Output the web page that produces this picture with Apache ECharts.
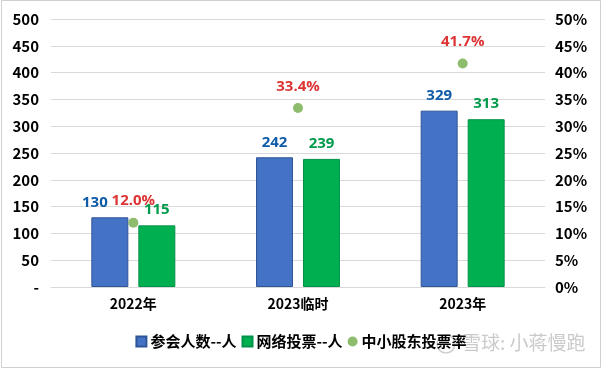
<!DOCTYPE html>
<html><head><meta charset="utf-8">
<script src="https://cdn.jsdelivr.net/npm/echarts@6/dist/echarts.min.js"></script>
<style>html,body{margin:0;padding:0;background:#fff}#c{width:602px;height:369px}</style>
</head><body><div id="c"></div>
<script>
const categories = ['2022年', '2023临时', '2023年'];
const attendees = [130, 242, 329];
const onlineVotes = [115, 239, 313];
const voteRate = [12.0, 33.4, 41.7];
const leftTicks = [0, 50, 100, 150, 200, 250, 300, 350, 400, 450, 500];

const chart = echarts.init(document.getElementById('c'));
const font = '"Noto Sans CJK SC", "Open Sans", sans-serif';
const numFont = '"Open Sans", "Noto Sans CJK SC", sans-serif';
chart.setOption({
  animation: false,
  textStyle: { fontFamily: font },
  grid: { left: 51, right: 57, top: 19, bottom: 82 },
  legend: {
    bottom: 15, left: 'center', itemWidth: 10, itemHeight: 10, itemGap: 5,
    textStyle: { fontSize: 15, fontWeight: 'bold', color: '#000', fontFamily: font, padding: [0, 0, 0, -1] },
    data: [
      { name: '参会人数--人', icon: 'rect' },
      { name: '网络投票--人', icon: 'rect' },
      { name: '中小股东投票率', icon: 'circle' }
    ]
  },
  xAxis: {
    type: 'category', data: categories,
    axisLine: { lineStyle: { color: '#D9D9D9' } },
    axisTick: { show: false },
    axisLabel: { fontSize: 14, fontWeight: 'bold', color: '#000', margin: 10 }
  },
  yAxis: [
    {
      type: 'value', min: leftTicks[0], max: leftTicks[leftTicks.length - 1], interval: 50,
      axisLabel: { fontSize: 15, fontWeight: 'bold', color: '#000', margin: 12,
        formatter: v => v === 0 ? '-' : String(v) },
      splitLine: { lineStyle: { color: '#D9D9D9' } },
      axisLine: { show: false }, axisTick: { show: false }
    },
    {
      type: 'value', min: 0, max: 50, interval: 5,
      axisLabel: { fontSize: 15, fontWeight: 'bold', color: '#000', margin: 10, formatter: '{value}%' },
      splitLine: { show: false }, axisLine: { show: false }, axisTick: { show: false }
    }
  ],
  series: [
    {
      name: '参会人数--人', type: 'bar', barWidth: 37, barGap: '27%',
      data: attendees.map((v, i) => i === 0 ? { value: v, label: { offset: [-15, 0] } } : v),
      itemStyle: { color: '#4472C4', borderColor: '#2F5597', borderWidth: 1 },
      label: { show: true, position: 'top', distance: 7, fontSize: 15, fontWeight: 'bold', color: '#0E5BA8', fontFamily: numFont }
    },
    {
      name: '网络投票--人', type: 'bar', data: onlineVotes, barWidth: 37,
      itemStyle: { color: '#00B050', borderColor: '#00924A', borderWidth: 1 },
      label: { show: true, position: 'top', distance: 8, fontSize: 15, fontWeight: 'bold', color: '#009A4C', fontFamily: numFont }
    },
    {
      name: '中小股东投票率', type: 'scatter', yAxisIndex: 1, data: voteRate, symbolSize: 10,
      itemStyle: { color: '#70AD47' },
      label: { show: true, position: 'top', distance: 9, fontSize: 15, fontWeight: 'bold', color: '#D50000',
        formatter: p => p.value.toFixed(1) + '%', fontFamily: numFont }
    }
  ],
  graphic: [
    { type: 'rect', shape: { x: 1.5, y: 0.5, width: 599, height: 367 },
      style: { fill: 'none', stroke: '#D0D0D0', lineWidth: 1 }, silent: true },
    { type: 'circle', shape: { cx: 446, cy: 344, r: 9 },
      style: { fill: 'none', stroke: 'rgba(160,160,160,0.5)', lineWidth: 1.5 }, silent: true },
    { type: 'text', left: 462, top: 333, silent: true,
      style: { text: '雪球: 小蒋慢跑', fill: 'rgba(150,150,150,0.5)', fontSize: 19, fontFamily: font } }
  ]
});
</script></body></html>
